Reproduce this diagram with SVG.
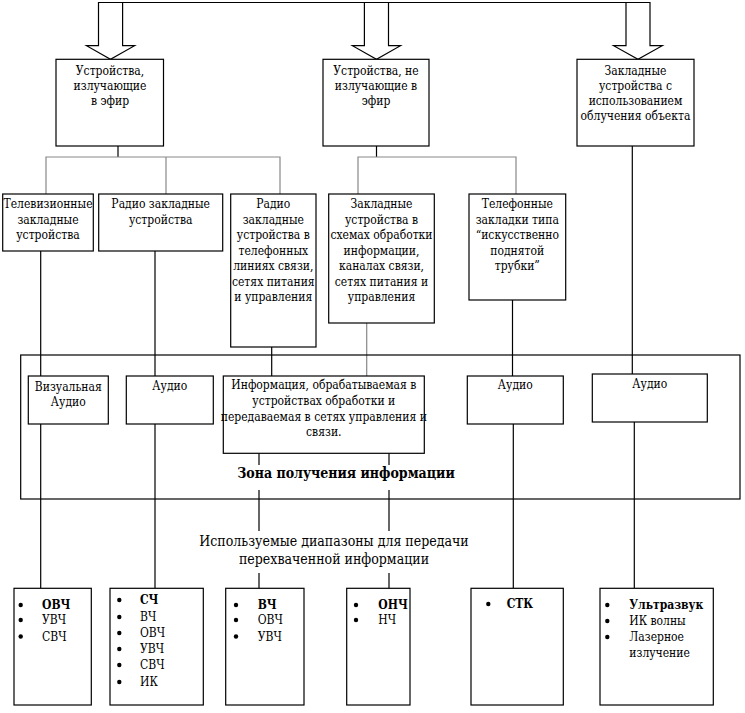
<svg xmlns="http://www.w3.org/2000/svg" width="745" height="713" viewBox="0 0 745 713">
<style>
.b{fill:#fff;stroke:#000;stroke-width:1.2}
.ar{fill:#fff;stroke:#000;stroke-width:1.2}
.l{stroke:#000;stroke-width:1.2;fill:none}
.g{stroke:#888;stroke-width:1.2;fill:none}
text{font-family:'DejaVu Serif Condensed','DejaVu Serif',serif;font-size:12px;fill:#000}
.c{text-anchor:middle}
.bd{font-weight:bold}
.big{font-size:14px}
.dot{fill:#000}
</style>
<rect width="745" height="713" fill="#fff"/>
<g id="connectors">
<line class="l" x1="98.5" y1="2.5" x2="650" y2="2.5"/>
<polyline class="l" points="118,146 118,157"/>
<polyline class="g" points="46,194 46,157 280,157 280,194"/>
<line class="g" x1="166" y1="157" x2="166" y2="194"/>
<polyline class="l" points="376.5,146 376.5,157"/>
<polyline class="g" points="358,194 358,157 516,157 516,194"/>
<line class="l" x1="40.7" y1="251" x2="40.7" y2="376"/>
<line class="l" x1="40.7" y1="424" x2="40.7" y2="588"/>
<line class="l" x1="155" y1="251" x2="155" y2="376"/>
<line class="l" x1="155" y1="424" x2="155" y2="588"/>
<line class="l" x1="271.7" y1="347" x2="271.7" y2="376"/>
<line class="g" x1="366.7" y1="323" x2="366.7" y2="376"/>
<line class="l" x1="512.5" y1="300" x2="512.5" y2="376"/>
<line class="l" x1="513.3" y1="424" x2="513.3" y2="588"/>
<line class="l" x1="632.3" y1="146" x2="632.3" y2="374"/>
<line class="l" x1="634.3" y1="422" x2="634.3" y2="588"/>
<line class="l" x1="259" y1="453" x2="259" y2="465"/>
<line class="l" x1="259" y1="490" x2="259" y2="531"/>
<line class="l" x1="259" y1="573" x2="259" y2="588"/>
<line class="l" x1="389" y1="453" x2="389" y2="465"/>
<line class="l" x1="389" y1="490" x2="389" y2="531"/>
<line class="l" x1="389" y1="573" x2="389" y2="588"/>
</g>
<g id="arrow1"><polygon class="ar" points="98.5,2.5 122.6,2.5 122.6,45.7 134.6,45.7 110.5,59.3 86.5,45.7 98.5,45.7"/></g>
<g id="arrow2"><polygon class="ar" points="364.4,2.5 388.5,2.5 388.5,45.7 400.5,45.7 376.5,59.3 352.4,45.7 364.4,45.7"/></g>
<g id="arrow3"><polygon class="ar" points="626,2.5 650,2.5 650,45.7 662.3,45.7 638,59.3 613.6,45.7 626,45.7"/></g>
<g id="box-emit"><rect class="b" x="56" y="59.3" width="107.5" height="86.7"/>
<text class="c" x="110" y="75">Устройства,</text><text class="c" x="110" y="90">излучающие</text><text class="c" x="110" y="105">в эфир</text></g>
<g id="box-nonemit"><rect class="b" x="323" y="59.3" width="106" height="86.7"/>
<text class="c" x="376" y="75">Устройства, не</text><text class="c" x="376" y="90">излучающие в</text><text class="c" x="376" y="105">эфир</text></g>
<g id="box-irrad"><rect class="b" x="577" y="59.3" width="117" height="86.7"/>
<text class="c" x="635.5" y="75">Закладные</text><text class="c" x="635.5" y="90">устройства с</text><text class="c" x="635.5" y="105">использованием</text><text class="c" x="635.5" y="120">облучения объекта</text></g>
<g id="box-tv"><rect class="b" x="2.7" y="194" width="90.6" height="57"/>
<text class="c" x="48" y="208">Телевизионные</text><text class="c" x="48" y="223.5">закладные</text><text class="c" x="48" y="239">устройства</text></g>
<g id="box-radio"><rect class="b" x="98.7" y="194" width="124" height="57"/>
<text class="c" x="160.7" y="208">Радио закладные</text><text class="c" x="160.7" y="223.5">устройства</text></g>
<g id="box-radiotel"><rect class="b" x="230.7" y="194" width="85.3" height="153"/>
<text class="c" x="273.3" y="208">Радио</text><text class="c" x="273.3" y="223.5">закладные</text><text class="c" x="273.3" y="239">устройства в</text><text class="c" x="273.3" y="254.5">телефонных</text><text class="c" x="273.3" y="270">линиях связи,</text><text class="c" x="273.3" y="285.5">сетях питания</text><text class="c" x="273.3" y="301">и управления</text></g>
<g id="box-schem"><rect class="b" x="328.7" y="194" width="105.6" height="129"/>
<text class="c" x="381.5" y="208">Закладные</text><text class="c" x="381.5" y="223.5">устройства в</text><text class="c" x="381.5" y="239">схемах обработки</text><text class="c" x="381.5" y="254.5">информации,</text><text class="c" x="381.5" y="270">каналах связи,</text><text class="c" x="381.5" y="285.5">сетях питания и</text><text class="c" x="381.5" y="301">управления</text></g>
<g id="box-phone"><rect class="b" x="469" y="194" width="96.7" height="106"/>
<text class="c" x="517.3" y="208">Телефонные</text><text class="c" x="517.3" y="223.5">закладки типа</text><text class="c" x="517.3" y="239">“искусственно</text><text class="c" x="517.3" y="254.5">поднятой</text><text class="c" x="517.3" y="270">трубки”</text></g>
<g id="zone"><rect class="l" x="20.7" y="355" width="719.3" height="144"/>
<rect x="236" y="465" width="222" height="25" fill="#fff"/>
<text class="c bd big" x="346" y="478">Зона получения информации</text></g>
<g id="z-visual"><rect class="b" x="28.3" y="376" width="80" height="48"/>
<text class="c" x="68.3" y="391">Визуальная</text><text class="c" x="68.3" y="406">Аудио</text></g>
<g id="z-audio1"><rect class="b" x="126.3" y="376" width="87" height="48"/>
<text class="c" x="169.8" y="390">Аудио</text></g>
<g id="z-info"><rect class="b" x="223.3" y="376" width="201" height="77.3"/>
<text class="c" x="323.8" y="389">Информация, обрабатываемая в</text><text class="c" x="323.8" y="404.5">устройствах обработки и</text><text class="c" x="323.8" y="420.5">передаваемая в сетях управления и</text><text class="c" x="323.8" y="436">связи.</text></g>
<g id="z-audio2"><rect class="b" x="467.3" y="376" width="96" height="48"/>
<text class="c" x="515.3" y="389">Аудио</text></g>
<g id="z-audio3"><rect class="b" x="592.3" y="374" width="115" height="48"/>
<text class="c" x="649.8" y="388">Аудио</text></g>
<g id="ranges-label">
<text class="c big" x="334" y="546">Используемые диапазоны для передачи</text>
<text class="c big" x="334" y="564">перехваченной информации</text></g>
<g id="r1"><rect class="b" x="14" y="588.3" width="77.3" height="116.7"/>
<circle class="dot" cx="20.7" cy="605" r="2.2"/><circle class="dot" cx="20.7" cy="620" r="2.2"/><circle class="dot" cx="20.7" cy="636.5" r="2.2"/>
<text class="bd" x="42" y="609">ОВЧ</text><text x="42" y="624">УВЧ</text><text x="42" y="640.5">СВЧ</text></g>
<g id="r2"><rect class="b" x="110" y="588.3" width="93.3" height="116.7"/>
<circle class="dot" cx="119.3" cy="600" r="2.2"/><circle class="dot" cx="119.3" cy="617" r="2.2"/><circle class="dot" cx="119.3" cy="633" r="2.2"/><circle class="dot" cx="119.3" cy="649" r="2.2"/><circle class="dot" cx="119.3" cy="665" r="2.2"/><circle class="dot" cx="119.3" cy="682" r="2.2"/>
<text class="bd" x="140" y="604">СЧ</text><text x="140" y="621">ВЧ</text><text x="140" y="637">ОВЧ</text><text x="140" y="653">УВЧ</text><text x="140" y="669">СВЧ</text><text x="140" y="686">ИК</text></g>
<g id="r3"><rect class="b" x="225.7" y="588.3" width="78.3" height="116.7"/>
<circle class="dot" cx="236" cy="605" r="2.2"/><circle class="dot" cx="236" cy="620" r="2.2"/><circle class="dot" cx="236" cy="636.5" r="2.2"/>
<text class="bd" x="257.7" y="609">ВЧ</text><text x="257.7" y="624">ОВЧ</text><text x="257.7" y="640.5">УВЧ</text></g>
<g id="r4"><rect class="b" x="346.7" y="588.3" width="63.3" height="116.7"/>
<circle class="dot" cx="356" cy="605" r="2.2"/><circle class="dot" cx="356" cy="620" r="2.2"/>
<text class="bd" x="378.3" y="609">ОНЧ</text><text x="378.3" y="624">НЧ</text></g>
<g id="r5"><rect class="b" x="471" y="588.3" width="92.3" height="116.7"/>
<circle class="dot" cx="488.3" cy="604" r="2.2"/>
<text class="bd" x="506.7" y="608">СТК</text></g>
<g id="r6"><rect class="b" x="600" y="588.3" width="113.3" height="116.7"/>
<circle class="dot" cx="607.3" cy="605" r="2.2"/><circle class="dot" cx="607.3" cy="621" r="2.2"/><circle class="dot" cx="607.3" cy="637" r="2.2"/>
<text class="bd" x="629.3" y="609">Ультразвук</text><text x="629.3" y="625">ИК волны</text><text x="629.3" y="641">Лазерное</text><text x="629.3" y="657">излучение</text></g>
</svg>
